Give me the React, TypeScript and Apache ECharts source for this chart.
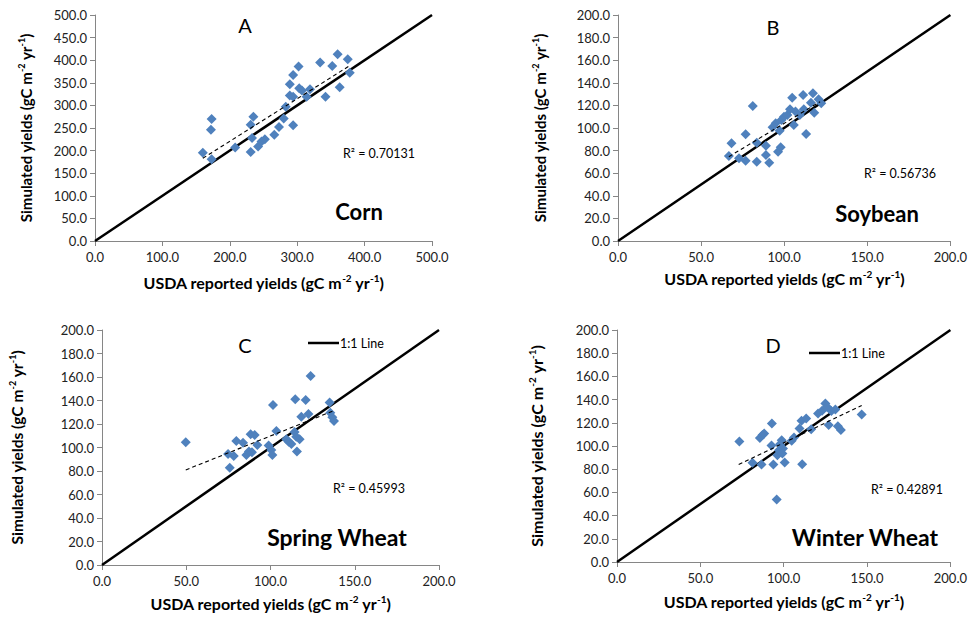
import React, { useEffect, useRef } from "react";
import * as echarts from "echarts";

const CORN_X = [160, 173, 172, 173, 208, 231, 233, 231, 235, 242, 247, 252, 266, 273, 280, 283, 294, 289, 294, 289, 294, 302, 303, 307, 314, 319, 334, 342, 352, 360, 363, 375, 378];
const CORN_Y = [195, 181, 246, 270, 207, 197, 228, 257, 275, 209, 220, 225, 235, 252, 271, 297, 256, 322, 319, 347, 367, 386, 338, 333, 319, 336, 395, 319, 387, 413, 340, 402, 372];
const CORN_TREND_X = [160, 378];
const CORN_TREND_Y = [183, 388];

const SOY_X = [66.7, 68.3, 72.8, 76.8, 76.8, 81.1, 83.5, 83.5, 89, 89, 91, 93, 96.3, 97.9, 97.3, 98.3, 99.9, 101.9, 103.5, 104.8, 105.8, 106.8, 109.4, 111.4, 111.8, 113.2, 116.1, 117.3, 118.1, 120.7, 122.3, 94.9];
const SOY_Y = [75.2, 86.4, 73.2, 71.1, 94.4, 119.5, 70.2, 87, 84.4, 76.1, 69.3, 100.6, 79, 82.9, 97.6, 107, 110, 111.5, 116.5, 126.8, 102.6, 114.5, 111.5, 129.2, 116.5, 94.7, 122.4, 130.7, 113.6, 125.4, 121.8, 104.1];
const SOY_TREND_X = [66.7, 121.6];
const SOY_TREND_Y = [74.6, 123.3];

const SPRING_X = [49.7, 75.8, 74.8, 78.2, 79.7, 83.7, 85.7, 87.2, 88.2, 89, 90.6, 92.2, 98.9, 100.5, 101.1, 101.5, 103.5, 109.4, 112.4, 114.3, 114.7, 115.3, 115.7, 117.3, 118.3, 120.9, 122.5, 123.8, 135.1, 135.5, 136.7, 137.7, 110.8];
const SPRING_Y = [104.4, 82.8, 94.5, 92.8, 105.5, 104.1, 93.6, 96.5, 111.2, 95.9, 110.6, 102.1, 101.6, 97.9, 93.6, 136.2, 114, 107, 103, 113.2, 141, 109.2, 96.5, 107, 126.2, 140.4, 128.5, 160.9, 138.2, 129.6, 125.7, 122.6, 105];
const SPRING_TREND_X = [49.7, 137.1];
const SPRING_TREND_Y = [80.9, 131.1];

const WINTER_X = [73.4, 81.3, 85.7, 87.3, 88.3, 86.7, 92.9, 92.7, 93.8, 95.8, 96.2, 97.2, 97.8, 98.8, 99.6, 100.6, 99.2, 104.8, 106.2, 109.5, 110.7, 111.1, 113.5, 116.5, 120.6, 123, 125, 126, 127, 128.6, 131, 132.5, 134.3, 146.8];
const WINTER_Y = [103.9, 85.5, 107, 109.4, 110.8, 84, 119.4, 100.4, 84, 53.8, 92.1, 96.4, 101.6, 105, 97.8, 85.8, 93.5, 104.5, 107.3, 115.1, 121.7, 84.3, 123.7, 114.5, 128.1, 130.4, 136.7, 133.8, 118, 130.1, 131.5, 117.1, 113.7, 127.2];
const WINTER_TREND_X = [73, 146.8];
const WINTER_TREND_Y = [84, 135];

const PANEL_LETTERS = ["A", "B", "C", "D"];
const CROP_NAMES = ["Corn", "Soybean", "Spring Wheat", "Winter Wheat"];
const R2_LABELS = ["R² = 0.70131", "R² = 0.56736", "R² = 0.45993", "R² = 0.42891"];
const AXIS_MAX = [500, 200, 200, 200];
const X_INTERVAL = [100, 50, 50, 50];
const Y_INTERVAL = [50, 20, 20, 20];
const X_NAME = "{n|USDA reported yields (gC m}{s|-2}{n| yr}{s|-1}{n|)}";
const Y_NAME = "{n|Simulated yields (gC m}{s|-2}{n| yr}{s|-1}{n|)}";
const LEGEND_LABEL = "1:1 Line";

const FONT = "Lato, 'Open Sans', sans-serif";

const pairs = (xs: number[], ys: number[]) => xs.map((x, i) => [x, ys[i]]);

const makeRich = (size: number) => ({
  n: { fontSize: size, fontWeight: "bold", color: "#000", fontFamily: FONT, lineHeight: size + 3 },
  s: { fontSize: Math.round(size * 0.6), fontWeight: "bold", color: "#000", fontFamily: FONT, lineHeight: 10, verticalAlign: "top" },
});

export default function App() {
  const ref = useRef<HTMLDivElement>(null);
  useEffect(() => {
    if (!ref.current) return;
    const chart = echarts.init(ref.current, null, { renderer: "svg" });

    const grids = [
      { left: 95, top: 15, width: 337, height: 226 },
      { left: 618, top: 15, width: 337, height: 226 },
      { left: 102, top: 330, width: 337, height: 235 },
      { left: 617, top: 330, width: 336, height: 232 },
    ];
    const yNameGaps = [60, 69, 76, 71];
    const xNameGaps = [32, 28, 29, 30];
    const yNameSizes = [15, 15, 15.5, 16];

    const labelStyle = (margin: number) => ({
      color: "#222",
      fontSize: 13,
      fontFamily: FONT,
      margin,
      formatter: (v: number) => v.toFixed(1),
    });

    const axisCommon = (i: number, interval: number) => ({
      gridIndex: i,
      type: "value",
      min: 0,
      max: AXIS_MAX[i],
      interval,
      splitLine: { show: false },
      axisLine: { show: true, onZero: false, lineStyle: { color: "#868686", width: 1 } },
      axisTick: { show: true, length: 5, lineStyle: { color: "#868686" } },
      nameLocation: "middle",
    });

    const xAxes = grids.map((_, i) => ({
      ...axisCommon(i, X_INTERVAL[i]),
      name: X_NAME,
      nameGap: xNameGaps[i],
      nameTextStyle: { rich: makeRich(16) },
      axisLabel: labelStyle(9),
    }));
    const yAxes = grids.map((_, i) => ({
      ...axisCommon(i, Y_INTERVAL[i]),
      name: Y_NAME,
      nameGap: yNameGaps[i],
      nameTextStyle: { rich: makeRich(yNameSizes[i]) },
      axisLabel: labelStyle(8),
    }));

    const datasets = [
      { xs: CORN_X, ys: CORN_Y, tx: CORN_TREND_X, ty: CORN_TREND_Y },
      { xs: SOY_X, ys: SOY_Y, tx: SOY_TREND_X, ty: SOY_TREND_Y },
      { xs: SPRING_X, ys: SPRING_Y, tx: SPRING_TREND_X, ty: SPRING_TREND_Y },
      { xs: WINTER_X, ys: WINTER_Y, tx: WINTER_TREND_X, ty: WINTER_TREND_Y },
    ];

    const series: any[] = [];
    datasets.forEach((d, i) => {
      series.push({
        type: "line",
        name: LEGEND_LABEL,
        xAxisIndex: i,
        yAxisIndex: i,
        data: [[0, 0], [AXIS_MAX[i], AXIS_MAX[i]]],
        showSymbol: false,
        symbol: "none",
        lineStyle: { color: "#000", width: 2.5 },
        z: 2,
      });
      series.push({
        type: "scatter",
        name: CROP_NAMES[i],
        xAxisIndex: i,
        yAxisIndex: i,
        data: pairs(d.xs, d.ys),
        symbol: "diamond",
        symbolSize: [10, 10],
        itemStyle: { color: "#4F81BD", opacity: 1 },
        z: 3,
      });
      series.push({
        type: "line",
        name: CROP_NAMES[i] + " trend",
        xAxisIndex: i,
        yAxisIndex: i,
        data: pairs(d.tx, d.ty),
        showSymbol: false,
        symbol: "none",
        lineStyle: { color: "#000", width: 1.1, type: [4, 3] },
        z: 4,
      });
    });

    const letterPos = [[245, 25], [773, 27], [245, 345], [773, 345]];
    const cropPos = [[359, 211], [877, 213], [337, 537], [865, 537]];
    const cropSizes = [22, 22, 23, 23];
    const r2Pos = [[379, 153], [900, 173], [369, 488], [907, 489]];

    const graphic: any[] = [];
    for (let i = 0; i < 4; i++) {
      graphic.push({
        type: "text",
        x: letterPos[i][0],
        y: letterPos[i][1],
        z: 10,
        style: { text: PANEL_LETTERS[i], fill: "#000", font: `20px ${FONT}`, align: "center", verticalAlign: "middle" },
      });
      graphic.push({
        type: "text",
        x: cropPos[i][0],
        y: cropPos[i][1],
        z: 10,
        style: { text: CROP_NAMES[i], fill: "#000", font: `bold ${cropSizes[i]}px ${FONT}`, align: "center", verticalAlign: "middle" },
      });
      graphic.push({
        type: "text",
        x: r2Pos[i][0],
        y: r2Pos[i][1],
        z: 10,
        style: { text: R2_LABELS[i], fill: "#000", font: `12.5px ${FONT}`, align: "center", verticalAlign: "middle" },
      });
    }
    const legendPos = [[308, 343], [809, 353]];
    legendPos.forEach(([lx, ly]) => {
      graphic.push({
        type: "line",
        z: 10,
        shape: { x1: lx, y1: ly, x2: lx + 31, y2: ly },
        style: { stroke: "#000", lineWidth: 2.5 },
      });
      graphic.push({
        type: "text",
        x: lx + 32,
        y: ly,
        z: 10,
        style: { text: LEGEND_LABEL, fill: "#000", font: `12.5px ${FONT}`, align: "left", verticalAlign: "middle" },
      });
    });

    chart.setOption({
      animation: false,
      backgroundColor: "#fff",
      grid: grids,
      xAxis: xAxes,
      yAxis: yAxes,
      series,
      graphic,
    });
    return () => chart.dispose();
  }, []);
  return (
    <div
      ref={ref}
      style={{ position: "fixed", left: 0, top: 0, width: 970, height: 617 }}
    />
  );
}
